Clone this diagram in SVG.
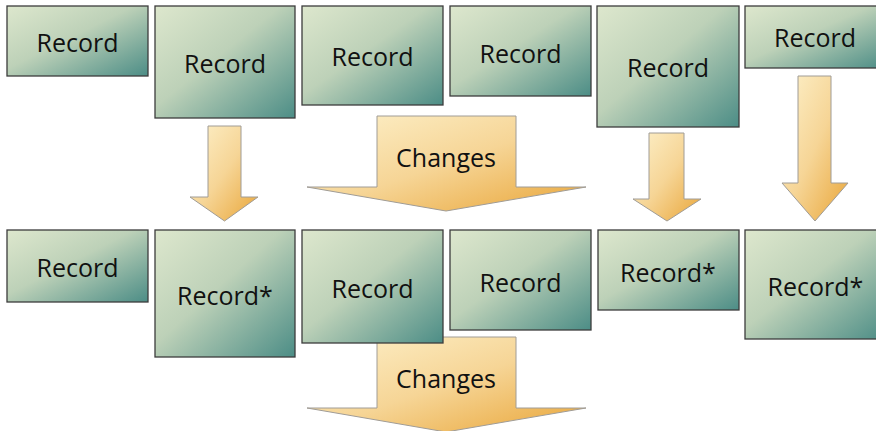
<svg xmlns="http://www.w3.org/2000/svg" width="876" height="431" viewBox="0 0 876 431">
<defs>
<linearGradient id="gBox" x1="0" y1="0" x2="1" y2="1">
<stop offset="0" stop-color="#dde7cd"/>
<stop offset="0.45" stop-color="#bdd1b8"/>
<stop offset="1" stop-color="#4c8d86"/>
</linearGradient>
<linearGradient id="gArr" x1="0" y1="0" x2="1" y2="1">
<stop offset="0" stop-color="#fdf1cb"/>
<stop offset="0.5" stop-color="#f6d596"/>
<stop offset="1" stop-color="#e9a537"/>
</linearGradient>
<style>
.box{fill:url(#gBox);stroke:#3c3c3c;stroke-width:1.3}
.arr{fill:url(#gArr);stroke:#a09c96;stroke-width:1}
.t{font-family:"Open Sans","Noto Sans","Liberation Sans",sans-serif;font-size:25px;fill:#111;text-anchor:middle}
</style>
</defs>
<g id="connectors">
<path class="arr" d="M208,126 H241 V197 H258 L224.5,221 L190,197 H208 Z"/>
<path class="arr" d="M377,116 H516 V187 H586 L446,211 L307,187 H377 Z"/>
<path class="arr" d="M649,133 H684 V199 H701 L667,221 L633,199 H649 Z"/>
<path class="arr" d="M798,76 H831 V183 H848 L815,221 L782,183 H798 Z"/>
<path class="arr" d="M377,337 H516 V408 H586 L446,432 L307,408 H377 Z"/>
<text class="t" x="446" y="167">Changes</text>
<text class="t" x="446" y="388">Changes</text>
</g>
<g id="top1"><rect class="box" x="7" y="6" width="141" height="70"/><text class="t" x="77.5" y="52">Record</text></g>
<g id="top2"><rect class="box" x="155" y="6" width="140" height="112"/><text class="t" x="225" y="72.5">Record</text></g>
<g id="top3"><rect class="box" x="302" y="6" width="141" height="99"/><text class="t" x="372.5" y="66">Record</text></g>
<g id="top4"><rect class="box" x="450" y="6" width="141" height="90"/><text class="t" x="520.5" y="62.5">Record</text></g>
<g id="top5"><rect class="box" x="597" y="6" width="142" height="121"/><text class="t" x="668" y="77">Record</text></g>
<g id="top6"><rect class="box" x="745" y="6" width="140" height="62"/><text class="t" x="815" y="46.5">Record</text></g>
<g id="bot1"><rect class="box" x="7" y="230" width="141" height="72"/><text class="t" x="77.5" y="276.5">Record</text></g>
<g id="bot2"><rect class="box" x="155" y="230" width="140" height="127"/><text class="t" x="225" y="305">Record*</text></g>
<g id="bot3"><rect class="box" x="302" y="230" width="141" height="113"/><text class="t" x="372.5" y="297.5">Record</text></g>
<g id="bot4"><rect class="box" x="450" y="230" width="141" height="100"/><text class="t" x="520.5" y="291.5">Record</text></g>
<g id="bot5"><rect class="box" x="598" y="230" width="141" height="80"/><text class="t" x="668" y="281.5">Record*</text></g>
<g id="bot6"><rect class="box" x="745" y="230" width="141" height="109"/><text class="t" x="815.5" y="296">Record*</text></g>
</svg>
